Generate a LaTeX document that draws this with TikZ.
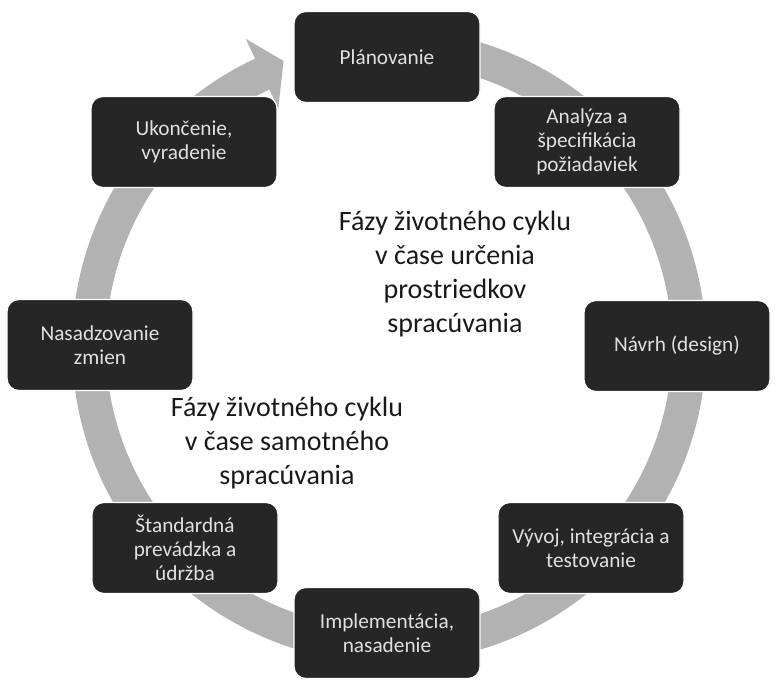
\documentclass[tikz,border=0pt]{standalone}
\usepackage{fontspec}
\setmainfont{Carlito}
\usepackage{xcolor}
\usetikzlibrary{positioning}

\begin{document}
\begin{tikzpicture}[
    x=1pt, y=-1pt,
    faza/.style={draw=white, line width=1.2pt, fill=black!85, rounded corners=12pt, align=center,
      minimum width=186pt, minimum height=91pt, text=white!88!black,
      font=\fontsize{21.3}{24}\selectfont},
    popis/.style={align=center, text=black!90, font=\fontsize{28}{34}\selectfont},
    kruh/.style={fill=black!30, draw=none}
  ]
    \useasboundingbox (0,0) rectangle (780,685);

    % the grey circle arrow
    \begin{scope}[shift={(389,346)}]
      \fill[kruh] (-100:317) arc[start angle=-100, end angle=245, radius=317]
        -- (245:339) -- (249.7:304) -- (245:262) -- (245:283)
        arc[start angle=245, end angle=-100, radius=283] -- cycle;
    \end{scope}

    \node[faza] (plan)  at (387,57)  {Plánovanie};
    \node[faza] (anal)  at (587,142) {Analýza a\\špecifikácia\\požiadaviek};
    \node[faza] (navrh) at (677,346) {Návrh (design)};
    \node[faza] (vyvoj) at (591,548) {Vývoj, integrácia a\\testovanie};
    \node[faza] (impl)  at (387,633) {Implementácia,\\nasadenie};
    \node[faza] (prev)  at (185,548) {Štandardná\\prevádzka a\\údržba};
    \node[faza] (nasad) at (100,345) {Nasadzovanie\\zmien};
    \node[faza] (ukonc) at (184,142) {Ukončenie,\\vyradenie};

    \node[popis] (urcenie) at (455,274) {Fázy životného cyklu\\v čase určenia\\prostriedkov\\spracúvania};
    \node[popis] (samotne) at (287,443) {Fázy životného cyklu\\v čase samotného\\spracúvania};
  \end{tikzpicture}
\end{document}
